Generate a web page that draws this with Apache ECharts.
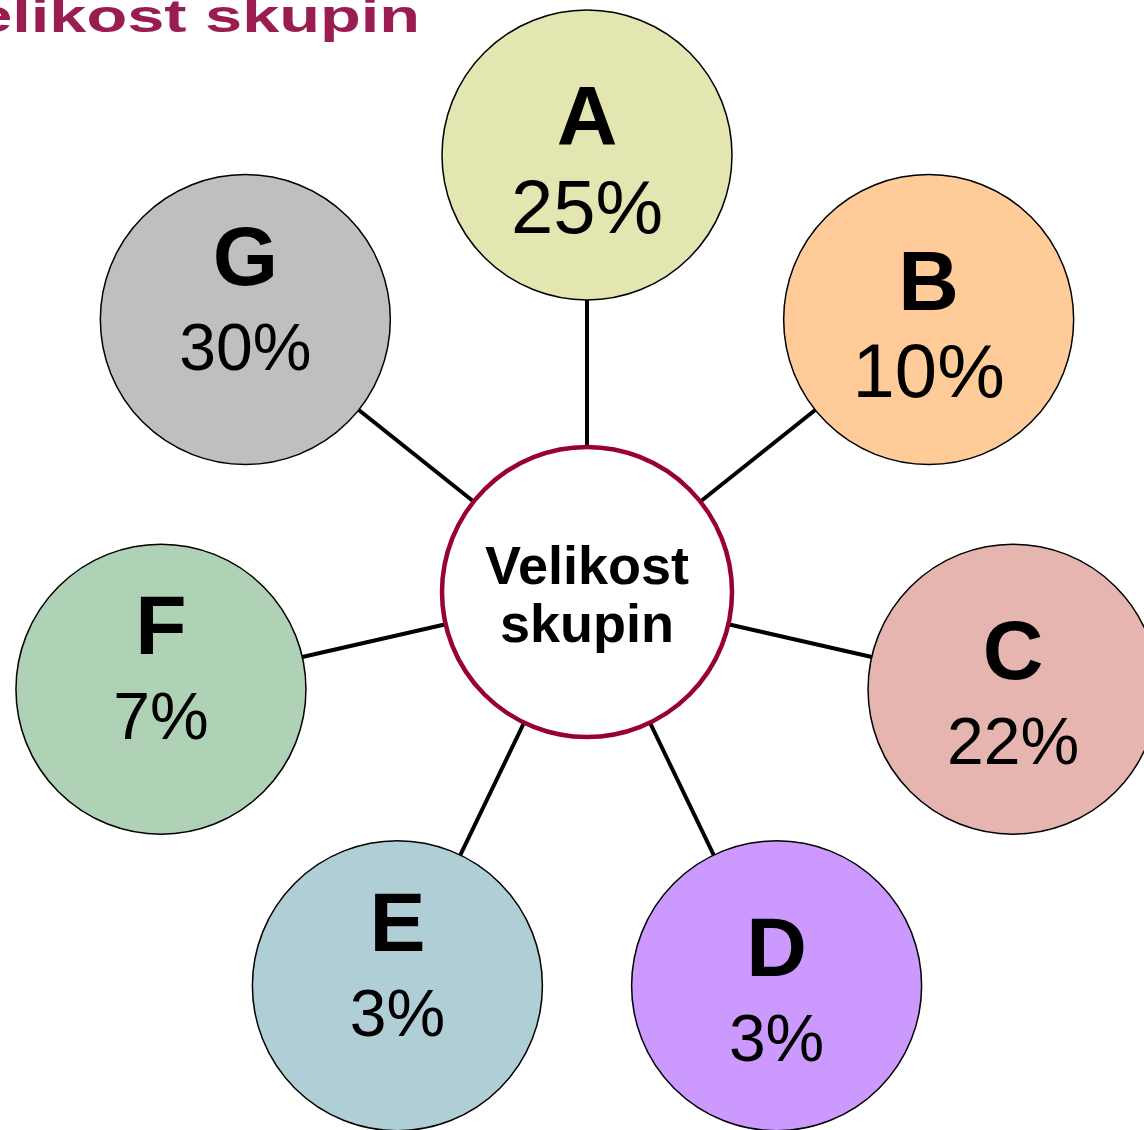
<!DOCTYPE html>
<html>
<head>
<meta charset="utf-8">
<script src="https://cdn.jsdelivr.net/npm/echarts@6/dist/echarts.min.js"></script>
<style>
  html, body { margin: 0; padding: 0; background: #fff; }
  #chart { width: 1144px; height: 1130px; }
</style>
</head>
<body>
<div id="chart"></div>
<script>
// data
const groups = ['A', 'B', 'C', 'D', 'E', 'F', 'G'];
const shares = [25, 10, 22, 3, 3, 7, 30];
const centerTitle = 'Velikost skupin';

// styles
const fills = ['#E3E6B1', '#FFCC99', '#E6B5B0', '#CC99FF', '#B0CED6', '#AFD1B5', '#BFBFBF'];
const bigPercent = ['A', 'B'];          // these two use a larger % font
const liftText = ['E', 'F', 'G'];       // text block sits higher in these
const font = 'Arial, "Liberation Sans", Helvetica, sans-serif';

const chart = echarts.init(document.getElementById('chart'));

const step = 360 / groups.length;

const spokes = groups.map(function (g, i) {
  return {
    type: 'line',
    coordinateSystem: 'polar',
    symbol: 'none',
    silent: true,
    z: 1,
    lineStyle: { color: '#000', width: 4, opacity: 1 },
    data: [[0, i * step], [1, i * step]]
  };
});

const nodes = groups.map(function (g, i) {
  const style = bigPercent.indexOf(g) >= 0 ? 'pb' : 'ps';
  return {
    name: g,
    value: [1, i * step],
    itemStyle: { color: fills[i], borderColor: '#000', borderWidth: 1.5, opacity: 1 },
    label: {
      formatter: '{l|' + g + '}\n{' + style + '|' + shares[i] + '%}',
      offset: [0, liftText.indexOf(g) >= 0 ? -13 : 12]
    }
  };
});

nodes.push({
  name: centerTitle,
  value: [0, 0],
  symbolSize: 290,
  itemStyle: { color: '#fff', borderColor: '#990033', borderWidth: 4.5, opacity: 1 },
  label: {
    formatter: '{c|' + centerTitle.split(' ').join('}\n{c|') + '}',
    offset: [0, 6]
  }
});

const option = {
  backgroundColor: '#fff',
  animation: false,
  polar: { center: [587, 592], radius: 437 },
  angleAxis: {
    type: 'value', min: 0, max: 360, startAngle: 90, clockwise: true, show: false
  },
  radiusAxis: { type: 'value', min: 0, max: 1, show: false },
  graphic: [{
    type: 'text',
    x: 420,
    y: 19,
    scaleX: 1.45,
    style: {
      text: centerTitle,
      fill: '#9A1D52',
      font: 'bold 46px ' + font,
      align: 'right',
      verticalAlign: 'middle'
    }
  }],
  series: spokes.concat([{
    type: 'scatter',
    coordinateSystem: 'polar',
    symbol: 'circle',
    symbolSize: 290,
    silent: true,
    z: 3,
    itemStyle: { opacity: 1 },
    label: {
      show: true,
      position: 'inside',
      color: '#000',
      fontFamily: font,
      rich: {
        l: { fontSize: 84, fontWeight: 'bold', lineHeight: 90, color: '#000', fontFamily: font },
        pb: { fontSize: 76, lineHeight: 90, color: '#000', fontFamily: font },
        ps: { fontSize: 66, lineHeight: 90, color: '#000', fontFamily: font },
        c: { fontSize: 54, fontWeight: 'bold', lineHeight: 58, color: '#000', fontFamily: font }
      }
    },
    data: nodes
  }])
};

chart.setOption(option);
window.addEventListener('resize', function () {
  chart.resize();
});
</script>
</body>
</html>
